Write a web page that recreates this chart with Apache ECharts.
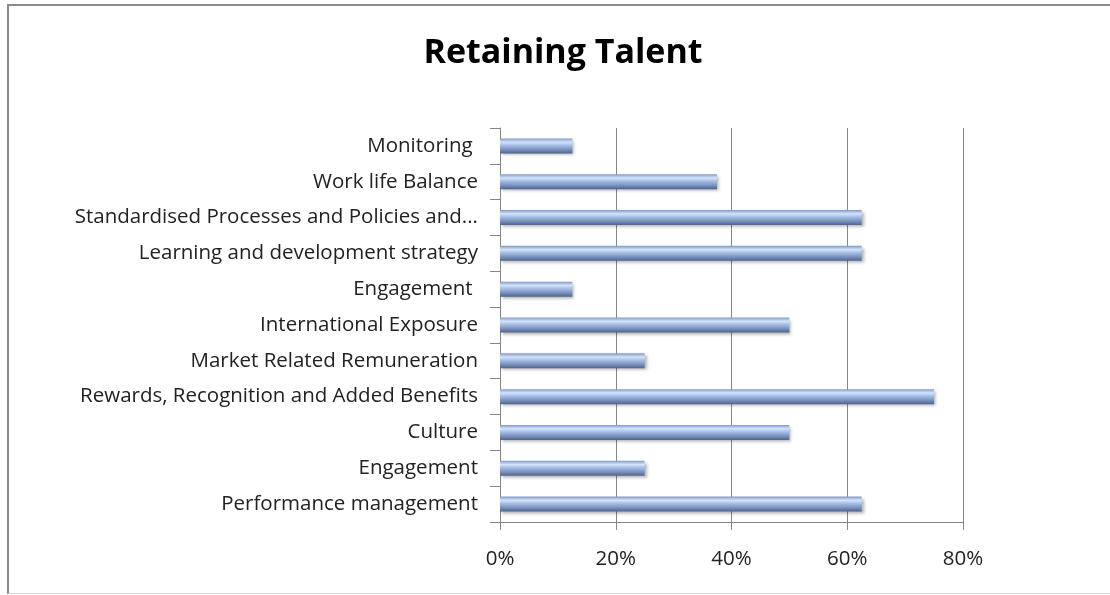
<!DOCTYPE html>
<html>
<head>
<meta charset="utf-8">
<script src="https://cdn.jsdelivr.net/npm/echarts@6/dist/echarts.min.js"></script>
<style>
  html, body { margin: 0; padding: 0; background: #fff; }
  #chart { width: 1110px; height: 595px; }
  #frame {
    position: absolute; left: 7px; top: 4px; width: 1110px; height: 587px;
    border-left: 2px solid #8a8a8a; border-top: 2px solid #8a8a8a;
    border-bottom: 1px solid #d9d9d9; pointer-events: none;
  }
</style>
</head>
<body>
<div id="frame"></div>
<div id="chart"></div>
<script>
// categories bottom -> top (echarts draws the first category at the bottom)
const categories = [
  'Performance management',
  'Engagement',
  'Culture',
  'Rewards, Recognition and Added Benefits',
  'Market Related Remuneration',
  'International Exposure',
  'Engagement ',
  'Learning and development strategy',
  'Standardised Processes and Policies and...',
  'Work life Balance',
  'Monitoring '
];
const values = [62.5, 25, 50, 75, 25, 50, 12.5, 62.5, 62.5, 37.5, 12.5];
const xTicks = [0, 20, 40, 60, 80];

const chart = echarts.init(document.getElementById('chart'));

const barColor = new echarts.graphic.LinearGradient(0, 0, 0, 1, [
  { offset: 0, color: '#8299c8' },
  { offset: 0.25, color: '#d3e5fc' },
  { offset: 0.45, color: '#a8c0e8' },
  { offset: 0.75, color: '#7890bd' },
  { offset: 1, color: '#50648c' }
]);

chart.setOption({
  animation: false,
  title: {
    text: 'Retaining Talent',
    left: 558,
    textAlign: 'center',
    top: 31,
    textStyle: { fontFamily: 'Open Sans', fontWeight: 'bold', fontSize: 34, color: '#000' }
  },
  grid: { left: 500, right: 147, top: 128, bottom: 73 },
  xAxis: {
    type: 'value',
    min: xTicks[0],
    max: xTicks[xTicks.length - 1],
    interval: 20,
    axisLine: { show: true, lineStyle: { color: '#868686' } },
    axisTick: { show: true, length: 8, lineStyle: { color: '#868686' } },
    axisLabel: {
      formatter: '{value}%',
      fontFamily: 'Open Sans', fontSize: 20.5, color: '#222', margin: 27
    },
    splitLine: { show: true, lineStyle: { color: '#868686', width: 1 } }
  },
  yAxis: {
    type: 'category',
    data: categories,
    axisLine: { show: true, lineStyle: { color: '#868686' } },
    axisTick: { show: true, length: 10, lineStyle: { color: '#868686' } },
    axisLabel: { fontFamily: 'Open Sans', fontSize: 20.5, color: '#222', margin: 22 },
    splitLine: { show: false }
  },
  series: [{
    type: 'bar',
    data: values,
    barWidth: 15,
    itemStyle: {
      color: barColor,
      shadowColor: 'rgba(0,0,0,0.3)',
      shadowBlur: 3,
      shadowOffsetX: 2,
      shadowOffsetY: 2
    }
  }]
});
</script>
</body>
</html>
